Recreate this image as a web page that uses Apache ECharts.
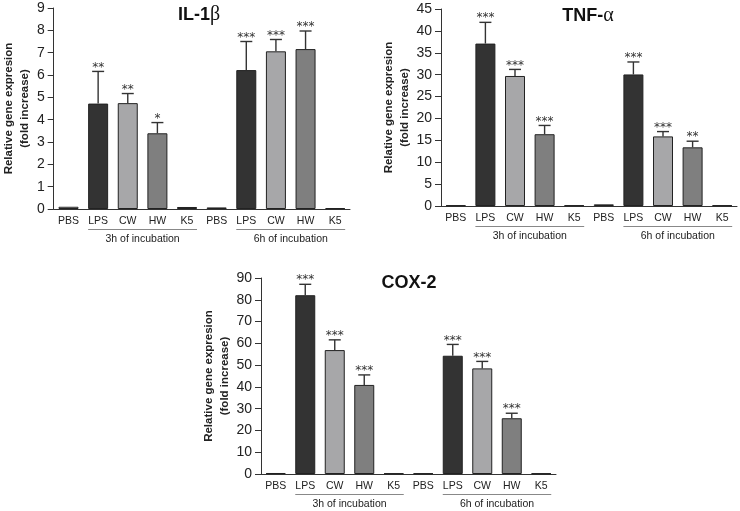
<!DOCTYPE html>
<html><head><meta charset="utf-8">
<script src="https://cdn.jsdelivr.net/npm/echarts@6.0.0/dist/echarts.min.js"></script>
<style>html,body{margin:0;padding:0;background:#fff}#c{width:740px;height:511px}</style>
</head><body><div id="c"></div>
<script>
// ---- data ----
const categories = ['PBS','LPS','CW','HW','K5','PBS','LPS','CW','HW','K5'];
const groupLabels = ['3h of incubation','6h of incubation'];
const groupRanges = [[1,4],[6,9]];
const barColors = ['#ffffff','#333333','#a7a7a9','#7f7f7f','#444444','#ffffff','#333333','#a7a7a9','#7f7f7f','#444444'];

const il1bMean  = [0.10, 4.72, 4.74, 3.39, 0.09, 0.07, 6.22, 7.06, 7.16, 0.04];
const il1bErr   = [0, 1.44, 0.43, 0.48, 0, 0, 1.28, 0.53, 0.81, 0];
const il1bStars = ['', '**', '**', '*', '', '', '***', '***', '***', ''];
const il1bTicks = {min: 0, max: 9, interval: 1};

const tnfMean  = [0.15, 37.1, 29.7, 16.4, 0.15, 0.38, 30.05, 15.9, 13.4, 0.15];
const tnfErr   = [0, 4.85, 1.5, 2.0, 0, 0, 2.85, 1.1, 1.4, 0];
const tnfStars = ['', '***', '***', '***', '', '', '***', '***', '**', ''];
const tnfTicks = {min: 0, max: 45, interval: 5};

const coxMean  = [0.46, 82.1, 56.9, 40.9, 0.3, 0.3, 54.3, 48.5, 25.6, 0.3];
const coxErr   = [0, 5.0, 4.7, 4.6, 0, 0, 5.2, 3.2, 2.3, 0];
const coxStars = ['', '***', '***', '***', '', '', '***', '***', '***', ''];
const coxTicks = {min: 0, max: 90, interval: 10};

const yName = 'Relative gene expresion\n(fold increase)';

// ---- layout ----
const FONT = 'Liberation Sans, Arial, sans-serif';
const panels = [
  {mean: il1bMean, err: il1bErr, stars: il1bStars, ticks: il1bTicks,
   grid: {left: 51, top: 8, width: 299, height: 201}, nameGap: 19,
   title: {x: 199, y: 15, main: 'IL-1', greek: 'β'}},
  {mean: tnfMean, err: tnfErr, stars: tnfStars, ticks: tnfTicks,
   grid: {left: 441, top: 9, width: 296, height: 197}, nameGap: 24,
   title: {x: 588, y: 16, main: 'TNF-', greek: 'α'}},
  {mean: coxMean, err: coxErr, stars: coxStars, ticks: coxTicks,
   grid: {left: 261, top: 278, width: 295, height: 196}, nameGap: 24,
   title: {x: 409, y: 283, main: 'COX-2', greek: ''}}
];

const grid = [], xAxis = [], yAxis = [], series = [], graphic = [];
const INK = '#222';

panels.forEach((p, i) => {
  grid.push(Object.assign({containLabel: false}, p.grid));
  xAxis.push({
    type: 'category', gridIndex: i, data: categories,
    axisLine: {lineStyle: {color: '#333', width: 1}},
    axisTick: {show: false},
    axisLabel: {interval: 0, fontSize: 10.5, color: INK, fontFamily: FONT, margin: 7}
  });
  yAxis.push({
    type: 'value', gridIndex: i, min: p.ticks.min, max: p.ticks.max, interval: p.ticks.interval,
    splitLine: {show: false},
    axisLine: {show: true, lineStyle: {color: '#333', width: 1}},
    axisTick: {show: true, length: 6, lineStyle: {color: '#333'}},
    axisLabel: {fontSize: 14, color: INK, fontFamily: FONT, margin: 9},
    name: yName, nameLocation: 'middle', nameGap: p.nameGap,
    nameTextStyle: {fontSize: 11.5, fontWeight: 'bold', color: INK, fontFamily: FONT, lineHeight: 16}
  });
  series.push({
    type: 'bar', xAxisIndex: i, yAxisIndex: i, barWidth: 20,
    data: p.mean.map((v, k) => ({value: v, itemStyle: {color: barColors[k]}})),
    itemStyle: {borderColor: '#222', borderWidth: 1},
    z: 2
  });
  series.push({
    type: 'custom', xAxisIndex: i, yAxisIndex: i, z: 3,
    data: p.mean.map((v, k) => [k, v, p.err[k]]),
    encode: {x: 0, y: 1},
    renderItem: (params, api) => {
      const k = api.value(0), m = api.value(1), e = api.value(2);
      const star = p.stars[params.dataIndex];
      if (!e && !star) return null;
      const p0 = api.coord([k, m]), p1 = api.coord([k, m + e]);
      const st = {stroke: '#333', lineWidth: 1.4};
      return {type: 'group', children: [
        {type: 'line', shape: {x1: p0[0], y1: p0[1], x2: p1[0], y2: p1[1]}, style: st},
        {type: 'line', shape: {x1: p1[0] - 6, y1: p1[1], x2: p1[0] + 6, y2: p1[1]}, style: st},
        {type: 'text', style: {x: p1[0], y: p1[1] - 4, text: star, align: 'center', verticalAlign: 'middle',
          fontSize: 12, fontFamily: 'DejaVu Sans, sans-serif', fill: '#333'}}
      ]};
    }
  });
  series.push({
    type: 'custom', xAxisIndex: i, yAxisIndex: i, z: 3, clip: false,
    data: groupRanges.map((r, g) => [r[0], r[1], g]),
    encode: {x: [0, 1]},
    renderItem: (params, api) => {
      const a = api.coord([api.value(0), 0]), b = api.coord([api.value(1), 0]);
      const x1 = a[0] - 10, x2 = b[0] + 10, y = a[1] + 20.5;
      return {type: 'group', children: [
        {type: 'line', shape: {x1: x1, y1: y, x2: x2, y2: y}, style: {stroke: '#888', lineWidth: 1}},
        {type: 'text', style: {x: (x1 + x2) / 2, y: a[1] + 30.5, text: groupLabels[api.value(2)],
          align: 'center', verticalAlign: 'middle', fontSize: 10.5, fontFamily: FONT, fill: INK}}
      ]};
    }
  });
  graphic.push({
    type: 'text', x: p.title.x, y: p.title.y,
    style: {
      text: '{b|' + p.title.main + '}' + (p.title.greek ? '{g|' + p.title.greek + '}' : ''),
      align: 'center', verticalAlign: 'middle',
      rich: {
        b: {fontSize: 18, fontWeight: 'bold', fontFamily: FONT, fill: '#111', color: '#111'},
        g: {fontSize: 20, fontFamily: 'Liberation Serif, serif', fill: '#111', color: '#111'}
      }
    }
  });
});

const chart = echarts.init(document.getElementById('c'), null, {renderer: 'canvas'});
chart.setOption({backgroundColor: '#fff', animation: false, grid, xAxis, yAxis, series, graphic});
</script>
</body></html>
